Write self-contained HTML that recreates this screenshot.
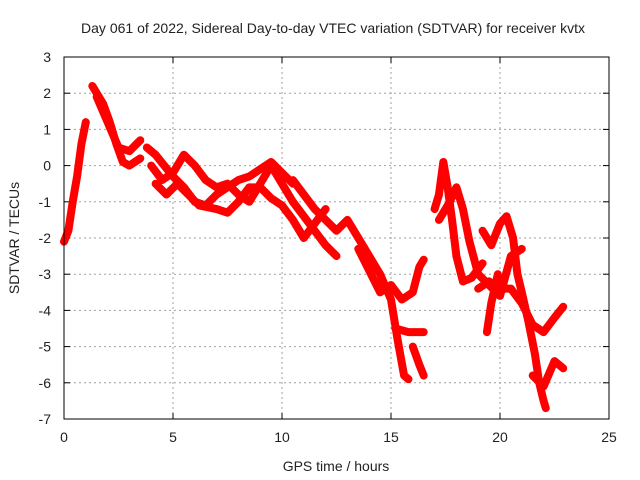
<!DOCTYPE html>
<html><head><meta charset="utf-8"><style>
body{margin:0;background:#fff}
svg{display:block;font-family:"Liberation Sans",sans-serif}
</style></head><body>
<svg id="chart" width="640" height="480">
<text x="333" y="33" text-anchor="middle" font-size="14" fill="#222">Day 061 of 2022, Sidereal Day-to-day VTEC variation (SDTVAR) for receiver kvtx</text>
<text x="336" y="471" text-anchor="middle" font-size="14" fill="#222">GPS time / hours</text>
<text transform="translate(19,238) rotate(-90)" text-anchor="middle" font-size="14" fill="#222">SDTVAR / TECUs</text>
<g id="grid"></g>
<g id="ticks"></g>
<g id="series"></g>
<rect x="64" y="57" width="545" height="362" fill="none" stroke="#000" stroke-width="1"/>
</svg>
<script>
const xTicks=[0,5,10,15,20,25];
const yTicks=[3,2,1,0,-1,-2,-3,-4,-5,-6,-7];
const tracks=[
[[0,-2.1],[0.2,-1.8],[0.4,-1.0],[0.6,-0.3],[0.8,0.6],[1.0,1.2]],
[[1.3,2.2],[1.5,2.0],[1.8,1.7],[2.1,1.2],[2.4,0.6],[2.7,0.1],[3.0,0.0],[3.5,0.2]],
[[1.5,1.9],[2.0,1.2],[2.5,0.5],[3.0,0.4],[3.5,0.7]],
[[3.8,0.5],[4.2,0.3],[4.6,0.0],[5.0,-0.3],[5.5,-0.6],[6.0,-1.0],[6.5,-1.1],[7.0,-0.8],[7.5,-0.6],[8.0,-0.4],[8.5,-0.3],[9.0,-0.1],[9.5,0.1],[10.0,-0.2],[10.5,-0.5]],
[[4.0,0.0],[4.5,-0.4],[5.0,-0.2],[5.5,0.3],[6.0,0.0],[6.5,-0.4],[7.0,-0.6],[7.5,-0.5],[8.0,-0.8],[8.5,-1.0],[9.0,-0.5],[9.5,0.0],[10.0,-0.5],[10.5,-1.0],[11.0,-1.4],[11.5,-1.8],[12.0,-2.2],[12.5,-2.5]],
[[4.2,-0.5],[4.7,-0.8],[5.2,-0.5],[5.7,-0.8],[6.2,-1.1],[7.0,-1.2],[7.5,-1.3],[8.0,-1.0],[8.5,-0.6],[9.0,-0.6],[9.5,-0.9],[10,-1.1],[10.5,-1.5],[11,-2.0],[11.5,-1.6],[12,-1.2]],
[[10.5,-0.4],[11,-0.8],[11.5,-1.2],[12,-1.5],[12.5,-1.8],[13,-1.5],[13.5,-2.0],[14,-2.5],[14.5,-3.0],[15,-3.7],[15.3,-4.8],[15.6,-5.8],[15.8,-5.9]],
[[13.5,-2.3],[14,-2.9],[14.5,-3.5],[15,-3.3],[15.5,-3.7],[16,-3.5],[16.3,-2.8],[16.5,-2.6]],
[[15.2,-4.5],[15.8,-4.6],[16.5,-4.6]],
[[16,-5],[16.3,-5.5],[16.5,-5.8]],
[[17,-1.2],[17.2,-0.8],[17.4,0.1],[17.6,-0.6],[17.8,-1.5],[18,-2.5],[18.3,-3.2],[18.7,-3.1],[19.2,-2.7]],
[[17.2,-1.5],[17.7,-1.0],[18,-0.6],[18.3,-1.2],[18.6,-2.1],[19,-3.0],[19.5,-3.3],[20,-3.6],[20.5,-2.5],[21,-2.3]],
[[19.2,-1.8],[19.6,-2.2],[20,-1.6],[20.3,-1.4],[20.6,-2.0],[20.8,-3.0],[21,-3.5],[21.3,-4.3],[21.6,-5.2],[21.8,-6.0],[22,-6.5],[22.1,-6.7]],
[[19,-3.4],[19.5,-3.2],[20,-3.4],[20.5,-3.4],[21,-3.8],[21.5,-4.4],[22,-4.6],[22.5,-4.2],[22.9,-3.9]],
[[21.5,-5.8],[22,-6.1],[22.5,-5.4],[22.9,-5.6]],
[[19.4,-4.6],[19.6,-3.8],[19.9,-3.0]]
];
const NS="http://www.w3.org/2000/svg";
const L=64,R=609,T=57,B=419,x0=0,x1=25,y0=-7,y1=3;
function sx(v){return L+(v-x0)/(x1-x0)*(R-L);}
function sy(v){return B-(v-y0)/(y1-y0)*(B-T);}
const grid=document.getElementById('grid'),ticks=document.getElementById('ticks'),series=document.getElementById('series');
function mk(tag,attrs,parent){const e=document.createElementNS(NS,tag);for(const k in attrs)e.setAttribute(k,attrs[k]);parent.appendChild(e);return e;}
xTicks.forEach(t=>{
  const x=sx(t);
  if(t>x0&&t<x1){const g=mk('line',{x1:x,x2:x,y1:T,y2:B,stroke:'#a0a0a0','stroke-dasharray':'2,3'},grid);
  
  }
  mk('line',{x1:x,x2:x,y1:B,y2:B-6,stroke:'#000'},grid);
  mk('line',{x1:x,x2:x,y1:T,y2:T+6,stroke:'#000'},grid);
  const tx=mk('text',{x:x,y:B+23,'text-anchor':'middle','font-size':14,fill:'#222'},ticks);
  tx.textContent=t;
  
  
});
yTicks.forEach(t=>{
  const y=sy(t);
  if(t>y0&&t<y1){const g=mk('line',{x1:L,x2:R,y1:y,y2:y,stroke:'#a0a0a0','stroke-dasharray':'2,3'},grid);
  
  }
  mk('line',{x1:L,x2:L+6,y1:y,y2:y,stroke:'#000'},grid);
  mk('line',{x1:R,x2:R-6,y1:y,y2:y,stroke:'#000'},grid);
  const tx=mk('text',{x:L-13,y:y+5,'text-anchor':'end','font-size':14,fill:'#222'},ticks);
  tx.textContent=t;
  
  
});
tracks.forEach(tr=>{
  const p=mk('polyline',{points:tr.map(d=>sx(d[0])+','+sy(d[1])).join(' '),fill:'none',stroke:'#ff0000','stroke-width':8,'stroke-linejoin':'round','stroke-linecap':'round'},series);
  
  
});
</script>
</body></html>
